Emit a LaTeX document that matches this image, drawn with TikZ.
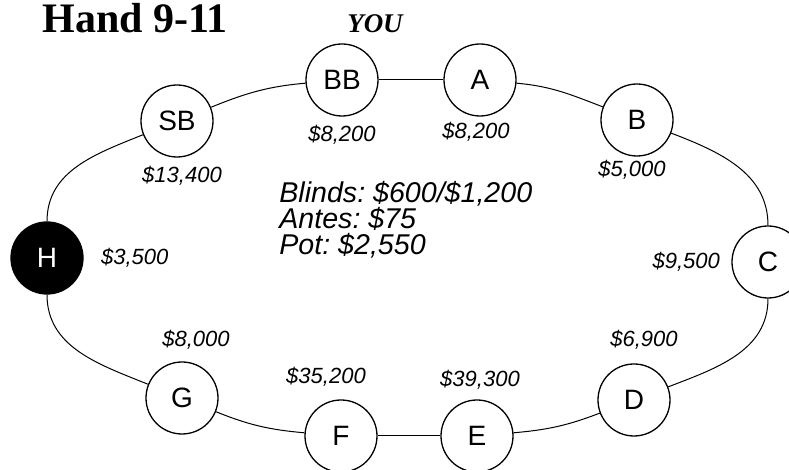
\documentclass[tikz,border=0pt]{standalone}
\usepackage{fontspec}
\setmainfont{Liberation Sans}
\newfontfamily\bookfont{Liberation Serif}
\usetikzlibrary{positioning}
\frenchspacing
\tikzset{
  seat/.style={circle,draw,line width=.65pt,fill=white,inner sep=0pt,minimum size=36pt,font=\fontsize{14}{16}\selectfont},
  outseat/.style={seat,fill=black,text=white},
  stack/.style={inner sep=0pt,font=\fontsize{11}{13}\selectfont\itshape},
  infoline/.style={anchor=base west,inner sep=0pt,font=\fontsize{14.3}{16}\selectfont\itshape},
  rail/.style={line width=.5pt}
}

\begin{document}
\begin{tikzpicture}[x=.5pt,y=.5pt]
  \useasboundingbox (0,0) rectangle (789,470);
  % seats, clockwise from H
  \node[outseat] (H) at (47,212) {H};
  \node[seat] (SB) at (177,349) {SB};
  \node[seat] (BB) at (342,390) {BB};
  \node[seat] (A) at (480,390) {A};
  \node[seat] (B) at (637,350) {B};
  \node[seat] (C) at (768,208) {C};
  \node[seat] (D) at (634,70) {D};
  \node[seat] (E) at (477,34) {E};
  \node[seat] (F) at (341,34) {F};
  \node[seat] (G) at (182,72) {G};
  % table rail
  \draw[rail] (H) to[out=90,in=202] (SB);
  \draw[rail] (SB) to[out=22,in=185] (BB);
  \draw[rail] (BB) -- (A);
  \draw[rail] (A) to[out=-5,in=159] (B);
  \draw[rail] (B) to[out=-21,in=90] (C);
  \draw[rail] (C) to[out=-90,in=21] (D);
  \draw[rail] (D) to[out=201,in=5] (E);
  \draw[rail] (E) -- (F);
  \draw[rail] (F) to[out=175,in=-22] (G);
  \draw[rail] (G) to[out=158,in=-90] (H);
  % chip stacks
  \node[stack,below=4pt of BB] (bbchips) {\$8,200};
  \node[stack,below=2.5pt of A,xshift=-2pt] (achips) {\$8,200};
  \node[stack,below=4pt of SB,xshift=2.5pt] (sbchips) {\$13,400};
  \node[stack,below=1.5pt of B,xshift=-2.5pt] (bchips) {\$5,000};
  \node[stack,right=8.5pt of H] (hchips) {\$3,500};
  \node[stack,left=5.5pt of C] (cchips) {\$9,500};
  \node[stack,above=6pt of G,xshift=7pt] (gchips) {\$8,000};
  \node[stack,above=6.5pt of F,xshift=-7.5pt] (fchips) {\$35,200};
  \node[stack,above=5pt of E,xshift=1.5pt] (echips) {\$39,300};
  \node[stack,above=7pt of D,xshift=5pt] (dchips) {\$6,900};
  % headings
  \node[anchor=base west,inner sep=0pt,font=\bookfont\bfseries\fontsize{21}{24}\selectfont] (title) at (42,437) {Hand 9-11};
  \node[anchor=base,inner sep=0pt,font=\bookfont\bfseries\itshape\fontsize{13.5}{16}\selectfont] (you) at (375,437) {YOU};
  % pot info
  \node[infoline] (blinds) at (279,267) {Blinds: \$600/\$1,200};
  \node[infoline] (antes) at (279,241) {Antes: \$75};
  \node[infoline] (pot) at (279,215) {Pot: \$2,550};
\end{tikzpicture}
\end{document}
